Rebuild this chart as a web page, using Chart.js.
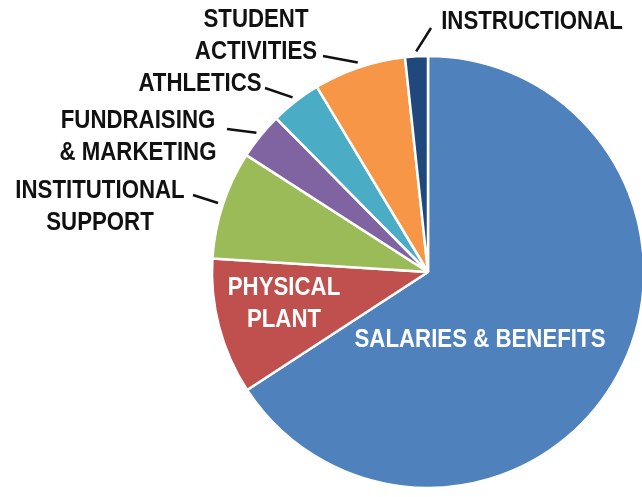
<!DOCTYPE html>
<html>
<head>
<meta charset="utf-8">
<script src="https://cdn.jsdelivr.net/npm/chart.js@4.4.1/dist/chart.umd.min.js"></script>
<style>
  html, body { margin: 0; padding: 0; background: #fff; }
  #wrap { width: 642px; height: 497px; position: relative; }
</style>
</head>
<body>
<div id="wrap"><canvas id="myChart"></canvas></div>
<script>
// categories, as they are printed (one entry per text line)
const categories = [
  ["SALARIES & BENEFITS"],
  ["PHYSICAL", "PLANT"],
  ["INSTITUTIONAL", "SUPPORT"],
  ["FUNDRAISING", "& MARKETING"],
  ["ATHLETICS"],
  ["STUDENT", "ACTIVITIES"],
  ["INSTRUCTIONAL"]
];
// share of spending, percent
const shares = [65.8, 10.2, 8.1, 3.5, 3.8, 6.9, 1.7];

const sliceColors = ["#4F81BD", "#C0504D", "#9BBB59", "#8064A2", "#4BACC6", "#F79646", "#1F497D"];

// where each label sits: centre x, cap centre of first line, text colour, leader end (or null)
const labelLayout = [
  { x: 480, y: 338, color: "#fff", leader: null },
  { x: 284, y: 286, color: "#fff", leader: null },
  { x: 100, y: 189, color: "#111", leader: [193, 195] },
  { x: 138, y: 119, color: "#111", leader: [227, 129] },
  { x: 200, y: 82, color: "#111", leader: [265, 88] },
  { x: 256, y: 18, color: "#111", leader: [323, 56] },
  { x: 532, y: 20, color: "#111", leader: [431, 28] }
];

const sliceLabels = {
  id: "sliceLabels",
  afterDatasetsDraw(chart) {
    const ctx = chart.ctx;
    const arcs = chart.getDatasetMeta(0).data;
    ctx.save();
    arcs.forEach((arc, i) => {
      const lay = labelLayout[i];
      const p = arc.getProps(["x", "y", "startAngle", "endAngle", "outerRadius"], true);
      if (lay.leader) {
        const mid = (p.startAngle + p.endAngle) / 2;
        const r = p.outerRadius + 5;
        ctx.beginPath();
        ctx.moveTo(lay.leader[0], lay.leader[1]);
        ctx.lineTo(p.x + Math.cos(mid) * r, p.y + Math.sin(mid) * r);
        ctx.strokeStyle = "#111";
        ctx.lineWidth = 2.5;
        ctx.stroke();
      }
      ctx.fillStyle = lay.color;
      ctx.font = "bold 25px 'Liberation Sans', Arial, sans-serif";
      ctx.textAlign = "center";
      ctx.textBaseline = "alphabetic";
      categories[i].forEach((line, k) => {
        ctx.save();
        ctx.translate(lay.x, lay.y + 9 + k * 32);
        ctx.scale(0.89, 1);
        ctx.fillText(line, 0, 0);
        ctx.restore();
      });
    });
    ctx.restore();
  }
};

const data = {
  labels: categories.map(c => c.join(" ")),
  datasets: [{
    data: shares,
    backgroundColor: sliceColors,
    borderColor: "#fff",
    borderWidth: 2.5,
    radius: 216
  }]
};

const config = {
  type: "pie",
  data,
  options: {
    responsive: false,
    animation: false,
    layout: { padding: { left: 214, right: 0, top: 58, bottom: 11 } },
    plugins: { legend: { display: false }, tooltip: { enabled: false } }
  },
  plugins: [sliceLabels]
};

const canvas = document.getElementById("myChart");
canvas.width = 642;
canvas.height = 497;
let myChart = new Chart(canvas, config);
</script>
</body>
</html>
